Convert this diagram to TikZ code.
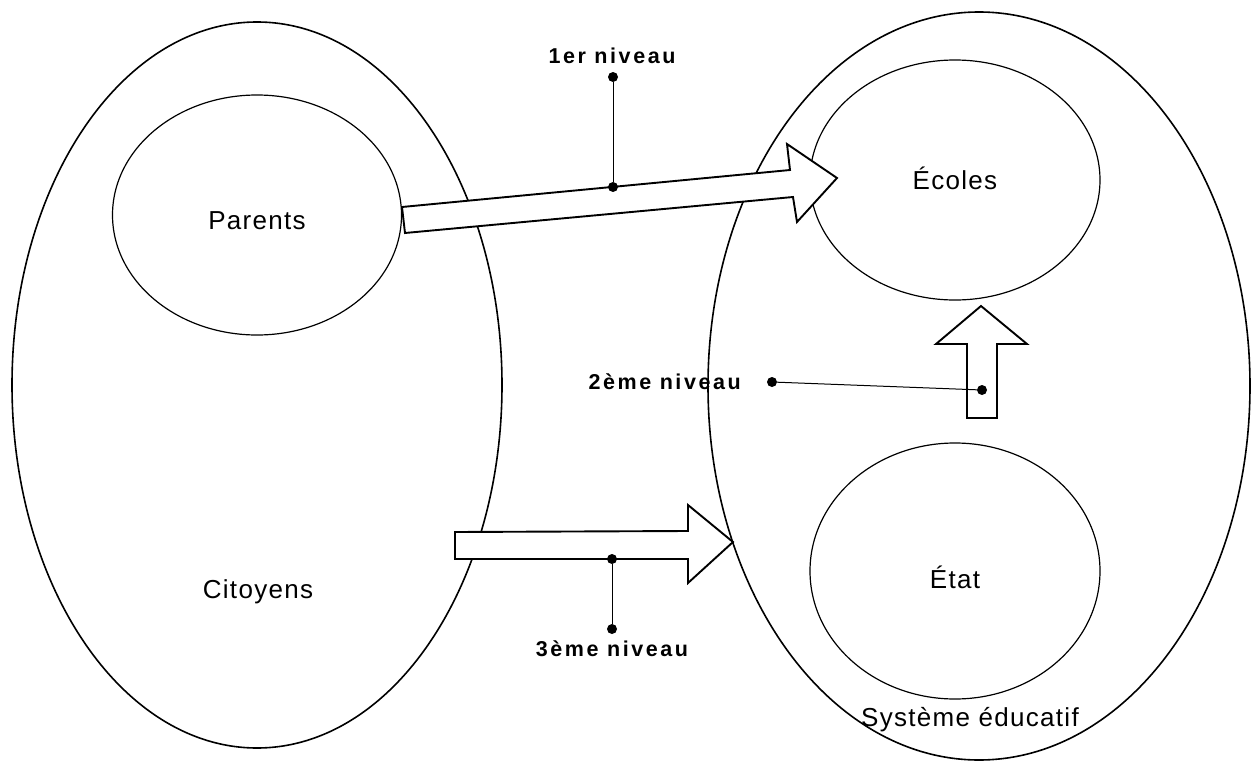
\documentclass[tikz,border=0pt]{standalone}
\usepackage{fontspec}
\setmainfont{Liberation Sans}
\newfontfamily\lblfont{Liberation Sans}[LetterSpace=5]
\newfontfamily\lvlfont{Liberation Sans}[LetterSpace=12]
\usetikzlibrary{shapes.geometric}
\begin{document}
\begin{tikzpicture}[x=1pt,y=-1pt,
  bigell/.style={draw, ellipse, line width=1.6pt, inner sep=0pt},
  smallell/.style={draw, ellipse, line width=1.2pt, inner sep=0pt},
  lbl/.style={font=\lblfont\fontsize{26}{30}\selectfont, inner sep=0pt},
  lvl/.style={font=\lvlfont\bfseries\fontsize{21.5}{25}\selectfont, inner sep=0pt},
  blockarrow/.style={draw, fill=white, line width=1.9pt, line join=miter},
  dotc/.style={circle, fill=black, inner sep=0pt, minimum size=10pt},
  callout/.style={line width=1pt}]
\useasboundingbox (0,0) rectangle (1259,771);
% big ellipses
\node[bigell, minimum width=490pt, minimum height=726pt] (cit) at (257,385) {};
\node[bigell, minimum width=542pt, minimum height=748pt] (sys) at (979,386) {};
% small ellipses
\node[smallell, minimum width=289pt, minimum height=240pt] (par) at (257,215) {};
\node[smallell, minimum width=290pt, minimum height=240pt] (eco) at (955,180) {};
\node[smallell, minimum width=290pt, minimum height=256pt] (eta) at (955,571) {};
% texts
\node[lbl] (tpar) at (257,221) {Parents};
\node[lbl] (tcit) at (258,592) {Citoyens};
\node[lbl] (teco) at (955,178) {Écoles};
\node[lbl] (teta) at (955,577) {État};
\node[lbl] (tsys) at (970,720) {Système éducatif};
% arrow 1 (parents -> ecoles)
\coordinate (a1tip) at (837,178);
\draw[blockarrow] (402,207) -- (790,170) -- (787,144) -- (a1tip) -- (797,222) -- (793,197) -- (405,233) -- cycle;
% arrow 3 (citoyens -> systeme)
\coordinate (a3tip) at (733,542);
\draw[blockarrow] (455,532) -- (688,531) -- (688,505) -- (a3tip) -- (688,583) -- (688,559) -- (455,559) -- cycle;
% arrow 2 (etat -> ecoles)
\coordinate (a2tip) at (981,306);
\draw[blockarrow] (967,418) -- (967,344) -- (936,344) -- (a2tip) -- (1027,344) -- (997,344) -- (997,418) -- cycle;
% callouts
\node[dotc] (d1a) at (613,187) {};
\node[dotc] (d1b) at (613,77) {};
\draw[callout] (d1a) -- (d1b);
\node[lvl] (l1) at (612,56) {1er niveau};
\node[dotc] (d3a) at (612,559) {};
\node[dotc] (d3b) at (612,629) {};
\draw[callout] (d3a) -- (d3b);
\node[lvl] (l3) at (612,649) {3ème niveau};
\node[dotc] (d2a) at (982,390) {};
\node[dotc] (d2b) at (772,382) {};
\draw[callout] (d2a) -- (d2b);
\node[lvl, anchor=east] (l2) at (741,382) {2ème niveau};
\end{tikzpicture}
\end{document}
